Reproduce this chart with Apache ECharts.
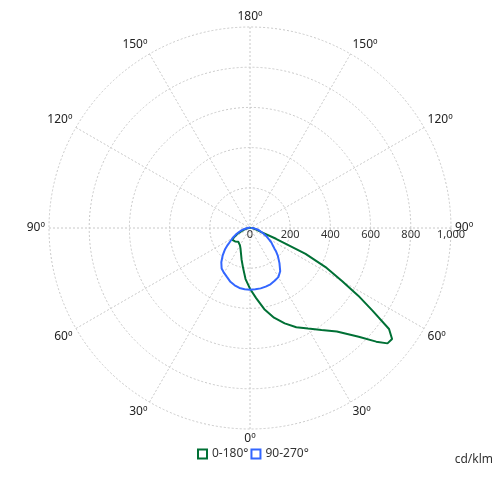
<!DOCTYPE html>
<html>
<head>
<meta charset="utf-8">
<script src="https://cdn.jsdelivr.net/npm/echarts@6/dist/echarts.min.js"></script>
<style>
  html, body { margin: 0; padding: 0; background: #fff; }
  #chart { width: 500px; height: 500px; }
</style>
</head>
<body>
<div id="chart"></div>
<script>
// gamma angles (degrees from nadir)
const gammas = [0, 5, 10, 15, 20, 25, 30, 35, 40, 45, 48, 50, 52, 54, 56, 58, 60, 62.5, 65, 67.5, 70, 75, 80, 85, 90, 100, 120, 150, 180]
// intensities, cd/klm
const c0 = [302, 350, 410, 462, 505, 545, 578, 620, 672, 765, 845, 893, 897, 855, 735, 635, 530, 430, 305, 140, 60, 35, 25, 15, 8, 4, 3, 2, 2]
const c180 = [302, 255, 200, 162, 132, 112, 100, 93, 90, 95, 100, 105, 108, 108, 106, 100, 92, 80, 68, 55, 45, 30, 18, 10, 5, 3, 2, 2, 2]
const c90 = [307, 306, 305, 302, 298, 290, 282, 262, 228, 196, 175, 158, 146, 136, 128, 115, 105, 95, 82, 72, 62, 48, 34, 20, 8, 3, 2, 2, 2]
const c270 = [307, 306, 303, 295, 285, 270, 258, 246, 222, 192, 172, 160, 145, 130, 118, 108, 100, 88, 78, 68, 58, 42, 28, 16, 6, 3, 2, 2, 2]
const radiusTicks = [0, 200, 400, 600, 800, 1000]

// right half: theta = gamma, left half: theta = 360 - gamma (0 at bottom)
function rightPt(g) { return g < 90 ? g + 360 : g }
function leftPt(g) { return 360 - g }

function plane(right, left) {
  const pts = []
  for (let i = gammas.length - 1; i >= 0; i--) {
    pts.push([left[i], leftPt(gammas[i])])
  }
  for (let i = 0; i < gammas.length; i++) {
    pts.push([right[i], rightPt(gammas[i])])
  }
  return pts
}

const chart = echarts.init(document.getElementById('chart'))
const font = 'Noto Sans'

chart.setOption({
  animation: false,
  textStyle: { fontFamily: font },
  title: {
    text: 'cd/klm',
    right: 7,
    top: 454,
    padding: 0,
    textStyle: { fontFamily: font, fontSize: 12, fontWeight: 'normal', color: '#333' }
  },
  legend: {
    top: 443,
    left: 192,
    itemWidth: 9,
    itemHeight: 9,
    itemGap: 2,
    textStyle: { fontFamily: font, fontSize: 12, color: '#333' },
    data: [
      { name: '0-180°', icon: 'rect', itemStyle: { color: '#fff', borderColor: '#007035', borderWidth: 2 } },
      { name: '90-270°', icon: 'rect', itemStyle: { color: '#fff', borderColor: '#3366ff', borderWidth: 2 } }
    ]
  },
  polar: {
    center: [250, 228],
    radius: 201
  },
  angleAxis: {
    type: 'value',
    min: 90,
    max: 450,
    interval: 30,
    startAngle: 0,
    clockwise: false,
    axisLine: { show: false },
    axisTick: { show: false },
    axisLabel: {
      margin: 4,
      fontFamily: font,
      fontSize: 12,
      color: '#222',
      formatter: function (v) {
        const a = v % 360
        return (a <= 180 ? a : 360 - a) + 'º'
      }
    },
    splitLine: { lineStyle: { color: '#c8c8c8', type: [2, 2], width: 1 } }
  },
  radiusAxis: {
    type: 'value',
    min: 0,
    max: 1000,
    interval: 200,
    axisLine: { show: false },
    axisTick: { show: false },
    axisLabel: {
      fontFamily: font,
      fontSize: 11,
      color: '#333',
      margin: -1,
      verticalAlign: 'top',
      formatter: function (v) {
        return radiusTicks.indexOf(v) >= 0 ? v.toLocaleString('en-US') : ''
      }
    },
    splitLine: { lineStyle: { color: '#c8c8c8', type: [2, 2], width: 1 } }
  },
  series: [
    {
      name: '0-180°',
      type: 'line',
      coordinateSystem: 'polar',
      showSymbol: false,
      smooth: false,
      lineStyle: { color: '#007035', width: 2 },
      itemStyle: { color: '#007035' },
      data: plane(c0, c180)
    },
    {
      name: '90-270°',
      type: 'line',
      coordinateSystem: 'polar',
      showSymbol: false,
      smooth: false,
      lineStyle: { color: '#3366ff', width: 2 },
      itemStyle: { color: '#3366ff' },
      data: plane(c90, c270)
    }
  ]
})
</script>
</body>
</html>
